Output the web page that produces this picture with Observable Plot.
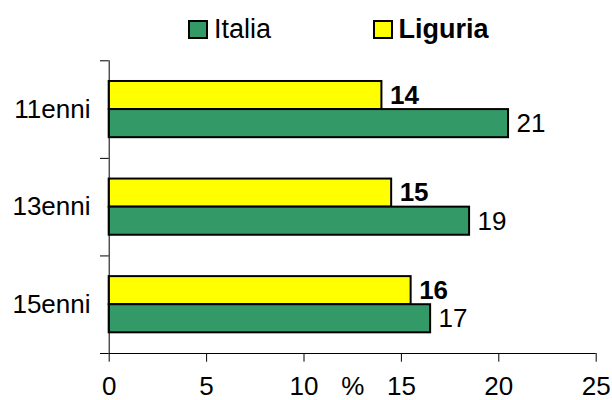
<!DOCTYPE html>
<html>
<head>
<meta charset="utf-8">
<script src="https://cdn.jsdelivr.net/npm/d3@7"></script>
<script src="https://cdn.jsdelivr.net/npm/@observablehq/plot@0.6"></script>
<style>
  html, body { margin: 0; padding: 0; background: #fff; }
  #chart { width: 612px; font-family: "Liberation Sans", Arial, sans-serif; color: #000; }
  .legend { height: 46px; box-sizing: border-box; padding: 12.85px 0 0 188px; display: flex; font-size: 27px; line-height: 27px; }
  .legend-item { display: flex; align-items: center; }
  .legend-item + .legend-item { margin-left: 101.5px; }
  .legend-swatch { width: 20px; height: 19px; box-sizing: border-box; border: 2px solid #000; margin-right: 6px; }
</style>
</head>
<body>
<div id="chart"></div>
<script>
// Age groups (one band each, top to bottom)
const ages = ["11enni", "13enni", "15enni"];
// Percentages per age group
const italia = [20.5, 18.5, 16.5];
const liguria = [14.0, 14.5, 15.5];
// Series names and their fills (legend order)
const seriesNames = ["Italia", "Liguria"];
const seriesColors = ["#339966", "#FFFF00"];
// Ticks of the value axis
const xTicks = [0, 5, 10, 15, 20, 25];

const rows = ages.map((age, i) => ({age, i, italia: italia[i], liguria: liguria[i]}));
const fmt = v => String(Math.round(v));

const chart = document.getElementById("chart");

// Legend: outlined swatches, the regional series in bold
const legend = document.createElement("div");
legend.className = "legend";
seriesNames.forEach((name, k) => {
  const item = document.createElement("div");
  item.className = "legend-item";
  const sw = document.createElement("span");
  sw.className = "legend-swatch";
  sw.style.background = seriesColors[k];
  const label = document.createElement("span");
  label.textContent = name;
  if (name === "Liguria") label.style.fontWeight = "bold";
  item.append(sw, label);
  legend.append(item);
});
chart.append(legend);

const plot = Plot.plot({
  width: 612,
  height: 354,
  marginTop: 14.3,
  marginBottom: 47,
  marginLeft: 108.7,
  marginRight: 16.3,
  style: {fontFamily: "'Liberation Sans', Arial, sans-serif", fontSize: "26px", color: "#000", background: "#fff", overflow: "visible"},
  x: {domain: [0, 25]},
  y: {domain: [0, ages.length], reverse: true},
  marks: [
    // Liguria bar sits in the upper half of each band, Italia in the lower half
    Plot.rect(rows, {x1: 0, x2: "liguria", y1: d => d.i + 0.212, y2: d => d.i + 0.5, fill: seriesColors[1], stroke: "#000", strokeWidth: 2}),
    Plot.rect(rows, {x1: 0, x2: "italia", y1: d => d.i + 0.5, y2: d => d.i + 0.788, fill: seriesColors[0], stroke: "#000", strokeWidth: 2}),
    // Axis lines
    Plot.ruleX([0], {y1: 0, y2: ages.length, stroke: "#000"}),
    Plot.ruleY([ages.length], {x1: 0, x2: 25, stroke: "#000"}),
    // Category axis: ticks at band boundaries, names at band centres
    Plot.axisY(d3.range(ages.length + 1), {tickSize: 8.7, tickFormat: () => "", label: null}),
    Plot.axisY(ages.map((_, i) => i + 0.5), {tickSize: 0, tickPadding: 18.7, tickFormat: v => ages[Math.floor(v)], label: null}),
    // Value axis
    Plot.axisX(xTicks, {tickSize: 8.7, tickPadding: 14, label: null}),
    Plot.text(["%"], {frameAnchor: "bottom", lineAnchor: "top", dy: 22.7}),
    // Value labels
    Plot.text(rows, {x: "liguria", y: d => d.i + 0.356, text: d => fmt(d.liguria), textAnchor: "start", dx: 8, fontWeight: "bold"}),
    Plot.text(rows, {x: "italia", y: d => d.i + 0.644, text: d => fmt(d.italia), textAnchor: "start", dx: 8})
  ]
});
chart.append(plot);
</script>
</body>
</html>
